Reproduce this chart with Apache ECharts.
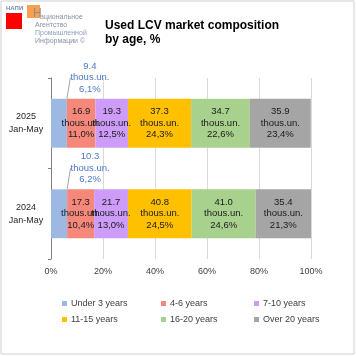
<!DOCTYPE html>
<html><head><meta charset="utf-8">
<script src="https://cdn.jsdelivr.net/npm/echarts@6/dist/echarts.min.js"></script>
<style>html,body{margin:0;padding:0;background:#fff}#c{width:356px;height:356px}</style>
</head><body><div id="c"></div>
<script>
const categories = ['2025\nJan-May', '2024\nJan-May'];
const seriesNames = ['Under 3 years', '4-6 years', '7-10 years', '11-15 years', '16-20 years', 'Over 20 years'];
const colors = ['#9db8e2', '#f5887a', '#cc9cf8', '#ffc000', '#a9d18e', '#a5a5a5'];
const under3Pct = [6.1, 6.2];
const y4to6Pct = [11.0, 10.4];
const y7to10Pct = [12.5, 13.0];
const y11to15Pct = [24.3, 24.5];
const y16to20Pct = [22.6, 24.6];
const over20Pct = [23.4, 21.3];
const under3Thous = [9.4, 10.3];
const y4to6Thous = [16.9, 17.3];
const y7to10Thous = [19.3, 21.7];
const y11to15Thous = [37.3, 40.8];
const y16to20Thous = [34.7, 41.0];
const over20Thous = [35.9, 35.4];
const xTicks = [0, 20, 40, 60, 80, 100];

const pcts = [under3Pct, y4to6Pct, y7to10Pct, y11to15Pct, y16to20Pct, over20Pct];
const thous = [under3Thous, y4to6Thous, y7to10Thous, y11to15Thous, y16to20Thous, over20Thous];
const FONT = 'Liberation Sans, Arial, sans-serif';

function fmt(si) {
  return p => thous[si][p.dataIndex].toFixed(1) + '\nthous.un.\n' + pcts[si][p.dataIndex].toFixed(1).replace('.', ',') + '%';
}

const series = seriesNames.map((name, si) => {
  const s = {
    name, type: 'bar', stack: 'total', barWidth: '54%',
    data: pcts[si],
    itemStyle: { color: colors[si] },
    label: {
      show: true, position: 'inside', formatter: fmt(si),
      color: '#1a1a1a', fontSize: 9.5, fontFamily: FONT, lineHeight: 11.5
    }
  };
  if (si === 0) {
    s.label.position = 'top';
    s.label.color = '#4a78c8';
    s.label.distance = 4;
    s.labelLayout = { dx: 31, dy: 0 };
    s.labelLine = { show: true, length2: 0, lineStyle: { color: '#a6a6a6', width: 1 } };
  }
  return s;
});

const legendCols = [[0, 3], [1, 4], [2, 5]];
const legendLefts = [57, 156, 249];
const legends = legendCols.map((idx, k) => ({
  data: idx.map(i => seriesNames[i]),
  orient: 'vertical', left: legendLefts[k], top: 294,
  itemWidth: 5, itemHeight: 5, itemGap: 7, icon: 'rect',
  textStyle: { fontSize: 9, color: '#404040', fontFamily: FONT, padding: [0, 0, 0, -1] }
}));

const chart = echarts.init(document.getElementById('c'), null, { renderer: 'canvas' });
chart.setOption({
  animation: false,
  backgroundColor: '#fff',
  color: colors,
  title: {
    text: 'Used LCV market composition\nby age, %', left: 100, top: 14,
    textStyle: { fontSize: 12, fontWeight: 'bold', color: '#000', fontFamily: FONT, lineHeight: 14 }
  },
  legend: legends,
  grid: { left: 51, right: 45, top: 78, bottom: 97, containLabel: false },
  xAxis: {
    type: 'value', min: 0, max: 100, interval: 20,
    axisLabel: { formatter: v => v + '%', fontSize: 9, color: '#404040', fontFamily: FONT, margin: 8 },
    splitLine: { lineStyle: { color: '#d9d9d9' } },
    axisLine: { show: false }, axisTick: { show: false }
  },
  yAxis: {
    type: 'category', data: categories, inverse: true,
    axisLine: { show: true, lineStyle: { color: '#808080' } },
    axisTick: { show: true, length: 3, lineStyle: { color: '#808080' } },
    axisLabel: { fontSize: 9, color: '#262626', fontFamily: FONT, align: 'center', margin: 25, lineHeight: 13 }
  },
  graphic: [
    { type: 'rect', shape: { x: 1, y: 1, width: 353, height: 353 }, style: { fill: 'none', stroke: '#d0d0d0', lineWidth: 1 }, silent: true },
    { type: 'rect', shape: { x: 6, y: 13, width: 16, height: 16 }, style: { fill: '#ff0000' } },
    { type: 'rect', shape: { x: 27, y: 5, width: 13, height: 13 }, style: { fill: 'rgba(245,145,50,0.85)' } },
    { type: 'text', x: 6, y: 5, style: { text: 'НАПИ', fontSize: 6, fill: '#7a8aa8', fontFamily: FONT, fontWeight: 'bold' } },
    { type: 'text', x: 33, y: 8, style: { text: 'Н', fontSize: 12, fill: '#9a8a80', fontFamily: FONT } },
    { type: 'text', x: 40, y: 14, style: { text: 'ациональное', fontSize: 7, fill: '#8a8fa0', fontFamily: FONT } },
    { type: 'text', x: 35, y: 22, style: { text: 'Агентство', fontSize: 7, fill: '#8a8fa0', fontFamily: FONT } },
    { type: 'text', x: 35, y: 30, style: { text: 'Промышленной', fontSize: 7, fill: '#8a9fc0', fontFamily: FONT } },
    { type: 'text', x: 35, y: 38, style: { text: 'Информации ©', fontSize: 7, fill: '#8a8fa0', fontFamily: FONT } }
  ],
  series
});
</script></body></html>
